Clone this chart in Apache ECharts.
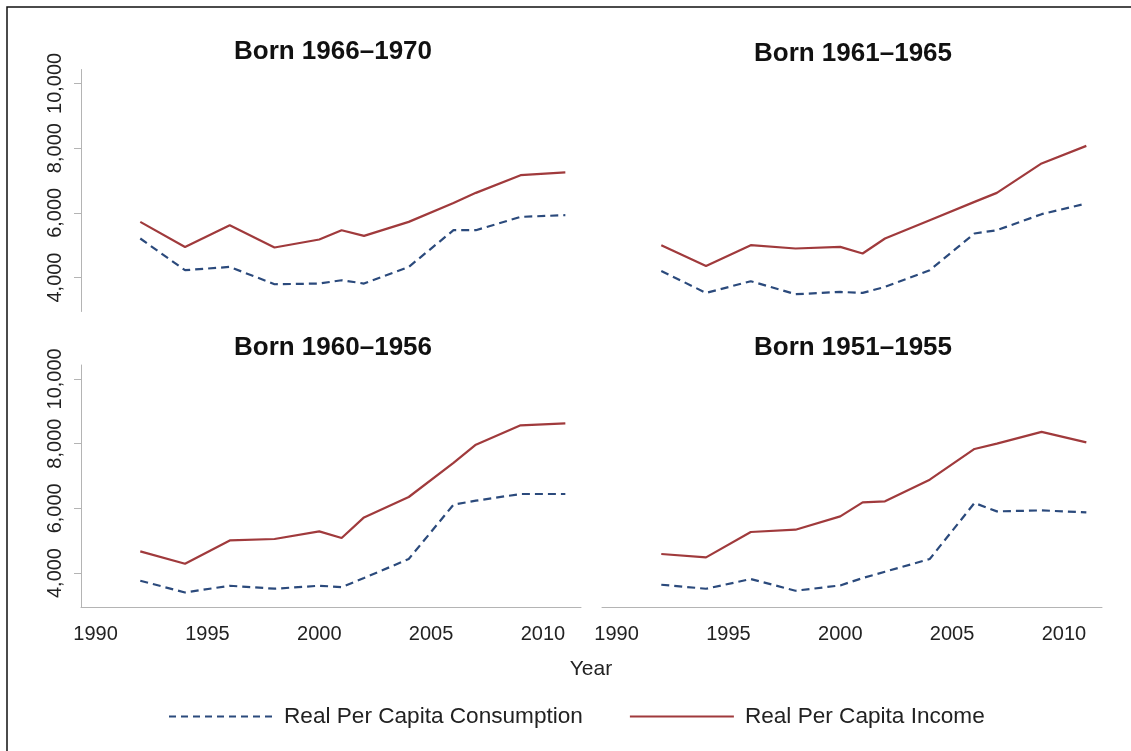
<!DOCTYPE html>
<html>
<head>
<meta charset="utf-8">
<script src="https://cdn.jsdelivr.net/npm/echarts@6/dist/echarts.min.js"></script>
<style>
html,body{margin:0;padding:0;background:#fff;}
#c{width:1131px;height:751px;}
</style>
</head>
<body>
<div id="c"></div>
<script>
// ---- data ----
const years = [1992, 1994, 1996, 1998, 2000, 2001, 2002, 2004, 2006, 2007, 2009, 2011];
const panelTitles = ['Born 1966\u20131970', 'Born 1961\u20131965', 'Born 1960\u20131956', 'Born 1951\u20131955'];
const seriesNames = ['Real Per Capita Consumption', 'Real Per Capita Income'];
const xTickValues = [1990, 1995, 2000, 2005, 2010];
const yTickValues = [4000, 6000, 8000, 10000];
const xAxisTitle = 'Year';

const cons6670 = [5206, 4226, 4328, 3793, 3814, 3917, 3814, 4328, 5463, 5463, 5874, 5927];
const inc6670  = [5720, 4946, 5618, 4928, 5175, 5463, 5287, 5720, 6307, 6617, 7164, 7248];
const cons6165 = [4205, 3524, 3886, 3484, 3555, 3524, 3710, 4226, 5361, 5463, 5958, 6289];
const inc6165  = [4999, 4359, 4999, 4897, 4946, 4742, 5206, 5772, 6338, 6617, 7526, 8070];
const cons5660 = [3762, 3400, 3607, 3515, 3607, 3566, 3845, 4433, 6113, 6236, 6443, 6443];
const inc5660  = [4668, 4288, 5008, 5052, 5287, 5082, 5720, 6350, 7402, 7968, 8565, 8627];
const cons5155 = [3638, 3514, 3814, 3453, 3617, 3845, 4040, 4433, 6165, 5905, 5936, 5874];
const inc5155  = [4588, 4484, 5268, 5339, 5751, 6185, 6216, 6886, 7835, 7999, 8361, 8040];

const panelCons = [cons6670, cons6165, cons5660, cons5155];
const panelInc = [inc6670, inc6165, inc5660, inc5155];

// ---- layout ----
const FONT = '"Liberation Sans", Arial, sans-serif';
const consColor = '#2b4a7c';
const incColor = '#a03a3c';
const axisColor = '#b4b4b4';
const grids = [
  {left: 81, top: 69.5, width: 500, height: 242},
  {left: 602, top: 69.5, width: 500, height: 242},
  {left: 81, top: 365, width: 500, height: 242},
  {left: 602, top: 365, width: 500, height: 242}
];
const titleCenters = [[333, 54], [853, 56], [333, 350], [853, 350]];

const chart = echarts.init(document.getElementById('c'), null, {renderer: 'canvas'});

const xAxes = grids.map((g, i) => ({
  type: 'value', gridIndex: i, min: 1989.35, max: 2011.7,
  show: i >= 2,
  splitLine: {show: false},
  axisLine: {show: true, onZero: false, lineStyle: {color: axisColor, width: 1}},
  axisTick: {show: false},
  axisLabel: {
    show: true, customValues: xTickValues, margin: 17,
    color: '#222', fontSize: 20, fontFamily: FONT,
    formatter: v => String(v)
  }
}));
const yAxes = grids.map((g, i) => ({
  type: 'value', gridIndex: i, min: 2950, max: 10430,
  show: i % 2 === 0,
  splitLine: {show: false},
  axisLine: {show: true, lineStyle: {color: axisColor, width: 1}},
  axisTick: {show: true, length: 7, customValues: yTickValues, lineStyle: {color: axisColor}},
  axisLabel: {
    show: true, customValues: yTickValues, rotate: 90, margin: 16,
    color: '#222', fontSize: 20, fontFamily: FONT,
    formatter: v => v.toLocaleString('en-US')
  }
}));

const series = [];
for (let i = 0; i < 4; i++) {
  series.push({
    name: seriesNames[0], type: 'line', xAxisIndex: i, yAxisIndex: i,
    data: years.map((y, k) => [y, panelCons[i][k]]),
    symbol: 'none', showSymbol: false, silent: true, animation: false,
    lineStyle: {color: consColor, width: 2.2, type: [8, 5]},
    itemStyle: {color: consColor}
  });
  series.push({
    name: seriesNames[1], type: 'line', xAxisIndex: i, yAxisIndex: i,
    data: years.map((y, k) => [y, panelInc[i][k]]),
    symbol: 'none', showSymbol: false, silent: true, animation: false,
    lineStyle: {color: incColor, width: 2.2, type: 'solid'},
    itemStyle: {color: incColor}
  });
}

const titles = panelTitles.map((t, i) => ({
  text: t, left: titleCenters[i][0], top: titleCenters[i][1] - 15, textAlign: 'center', padding: 0,
  textStyle: {fontSize: 26, fontWeight: 'bold', color: '#111', fontFamily: FONT}
}));
titles.push({
  text: xAxisTitle, left: 591, top: 659, textAlign: 'center', padding: 0,
  textStyle: {fontSize: 21, fontWeight: 'normal', color: '#222', fontFamily: FONT}
});

chart.setOption({
  backgroundColor: '#fff',
  animation: false,
  title: titles,
  grid: grids,
  xAxis: xAxes,
  yAxis: yAxes,
  legend: {
    data: [
      {name: seriesNames[0], lineStyle: {type: [7, 5], width: 2}},
      {name: seriesNames[1], lineStyle: {width: 2}}
    ],
    left: 168, top: 705, itemWidth: 104, itemHeight: 14, itemGap: 46,
    padding: 0, selectedMode: false,
    itemStyle: {opacity: 0},
    textStyle: {fontSize: 22.6, color: '#222', fontFamily: FONT, padding: [0, 0, 0, 6]}
  },
  graphic: [{
    type: 'rect', shape: {x: 7, y: 7, width: 1150, height: 770},
    style: {fill: null, stroke: '#111', lineWidth: 1.5}, silent: true, z: -1
  }],
  series: series
});
</script>
</body>
</html>
